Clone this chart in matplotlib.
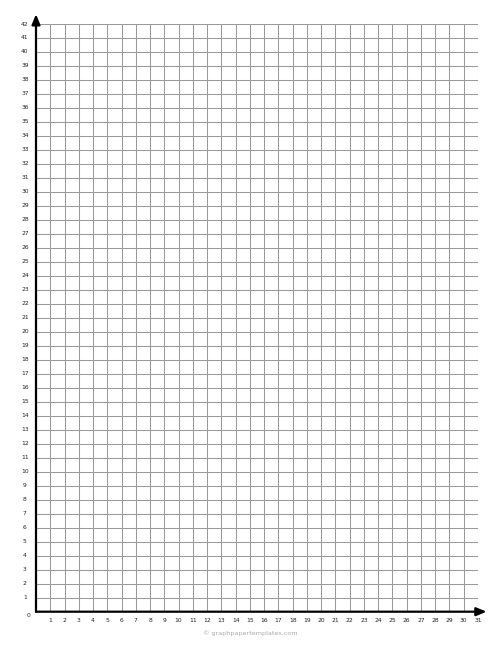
import matplotlib
matplotlib.use("Agg")
import matplotlib.pyplot as plt

x_ticks = list(range(0, 32))
y_ticks = list(range(0, 43))
x_labels = [str(v) for v in range(1, 32)]
y_labels = [str(v) for v in range(0, 43)]
footer = "© graphpapertemplates.com"

fig = plt.figure(figsize=(5.0, 6.47), dpi=100)
ax = fig.add_axes([36/500, 35.3/647, 442/500, 587.7/647])
ax.set_xlim(0, 31)
ax.set_ylim(0, 42)

for xv in x_ticks:
    ax.axvline(xv, color="#9a9a9a", lw=0.75, zorder=1)
for yv in y_ticks:
    ax.axhline(yv, color="#9a9a9a", lw=0.75, zorder=1)

for s in ax.spines.values():
    s.set_visible(False)
ax.set_xticks([])
ax.set_yticks([])

# axes with arrows
ax.annotate("", xy=(31.6, 0), xytext=(0, 0), xycoords="data",
            arrowprops=dict(arrowstyle="-|>,head_length=0.6,head_width=0.25",
                            color="black", lw=1.6, shrinkA=0, shrinkB=0),
            annotation_clip=False, zorder=5)
ax.annotate("", xy=(0, 42.7), xytext=(0, 0), xycoords="data",
            arrowprops=dict(arrowstyle="-|>,head_length=0.6,head_width=0.25",
                            color="black", lw=1.6, shrinkA=0, shrinkB=0),
            annotation_clip=False, zorder=5)

for i, lab in enumerate(x_labels):
    ax.text(i + 1, -0.65, lab, ha="center", va="center", fontsize=4.3,
            color="#222222", clip_on=False)
for i, lab in enumerate(y_labels):
    yv = y_ticks[i]
    if yv == 0:
        ax.text(-0.55, -0.25, lab, ha="center", va="center", fontsize=4.3,
                color="#222222", clip_on=False)
    else:
        ax.text(-0.78, yv, lab, ha="center", va="center", fontsize=4.3,
                color="#222222", clip_on=False)

fig.text(0.5, 1 - 633/647, footer, ha="center", va="center", fontsize=4.6,
         color="#aaaaaa")

fig.savefig("out.png", dpi=100)
